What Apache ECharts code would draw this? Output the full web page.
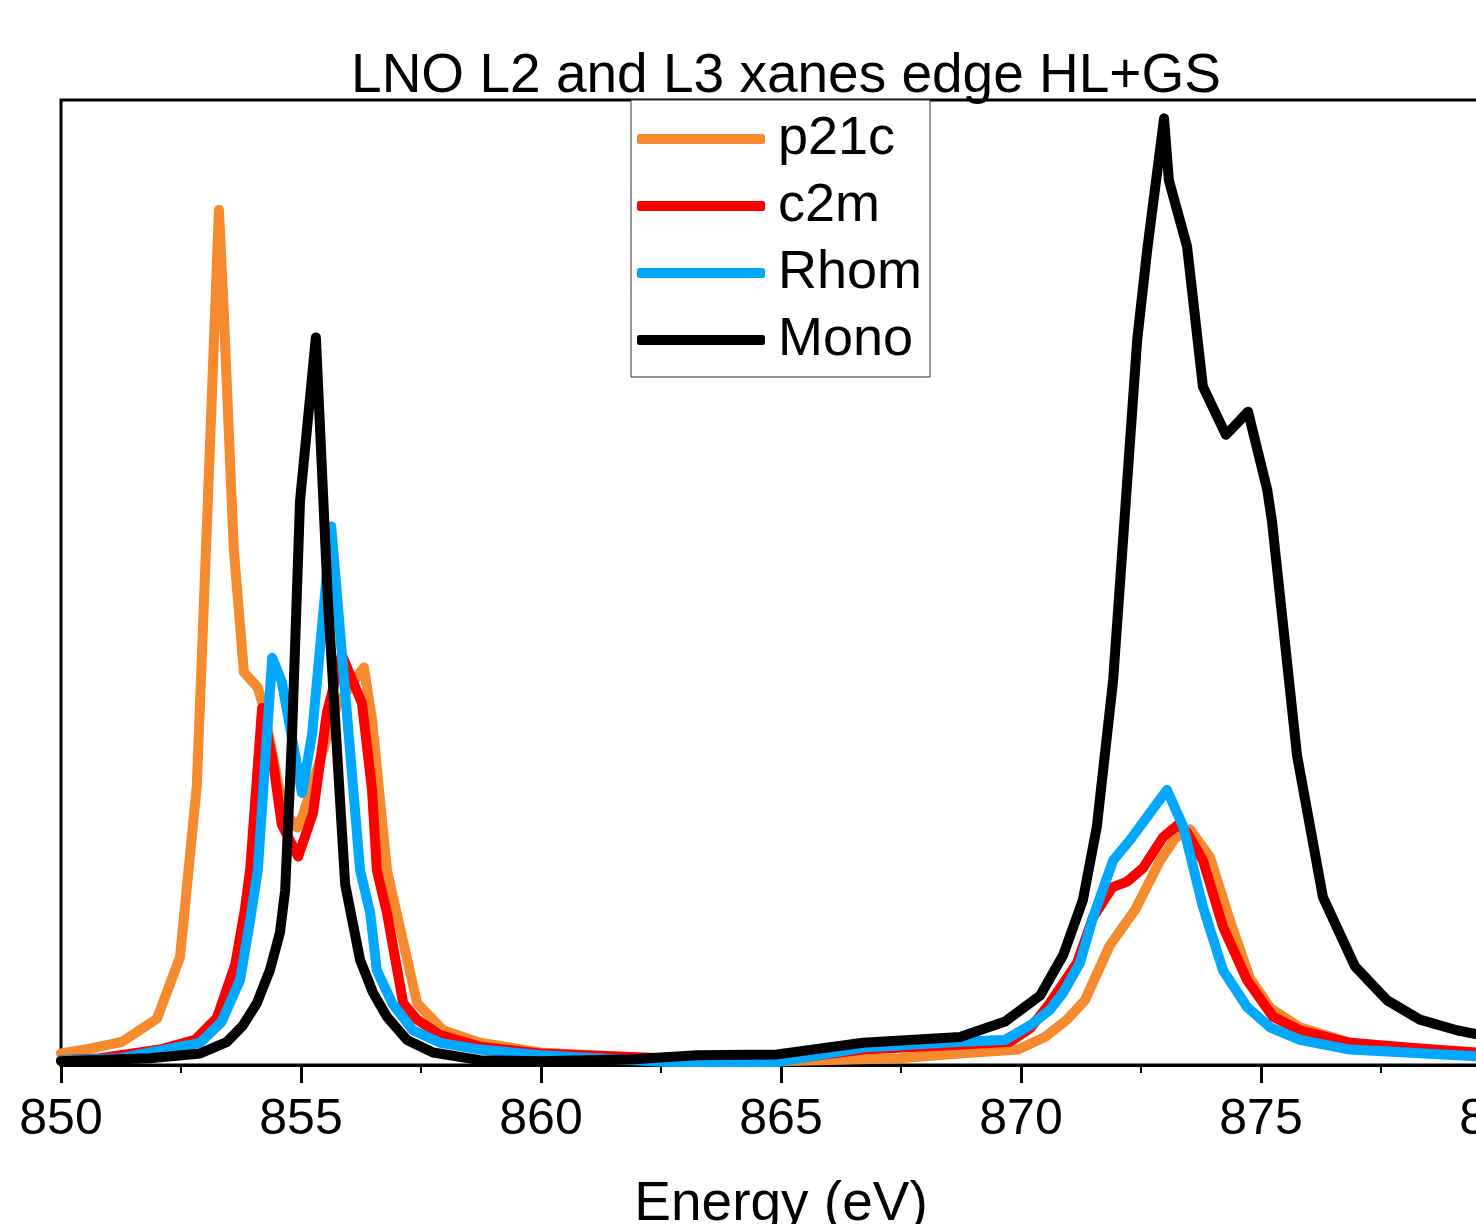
<!DOCTYPE html>
<html>
<head>
<meta charset="utf-8">
<script src="https://cdn.jsdelivr.net/npm/echarts@6/dist/echarts.min.js"></script>
<style>
  html, body { margin: 0; padding: 0; background: #fff; }
  #chart { width: 1476px; height: 1224px; }
</style>
</head>
<body>
<div id="chart"></div>
<script>
// Energy (eV), intensity (arb. units, 0..1 of plot height)
const titleText = 'LNO L2 and L3 xanes edge HL+GS';
const xName = 'Energy (eV)';
const seriesNames = ['p21c', 'c2m', 'Rhom', 'Mono'];
const seriesColors = ['#F68A2E', '#FF0000', '#00A8FF', '#000000'];

const p21c = [
  [850.00,0.012],[850.50,0.016],[851.27,0.024],[852.00,0.048],[852.48,0.112],
  [852.83,0.290],[853.06,0.585],[853.29,0.886],[853.38,0.793],[853.60,0.534],
  [853.81,0.407],[854.10,0.391],[854.21,0.373],[854.63,0.264],[854.92,0.246],
  [855.04,0.259],[855.75,0.373],[856.31,0.412],[856.48,0.358],[856.79,0.202],
  [857.42,0.064],[857.96,0.036],[858.73,0.023],[859.98,0.013],[862.06,0.007],
  [864.98,0.004],[867.48,0.007],[868.73,0.012],[869.94,0.016],[870.50,0.029],
  [870.96,0.047],[871.33,0.067],[871.85,0.124],[872.38,0.161],[872.90,0.212],
  [873.21,0.235],[873.52,0.244],[873.94,0.215],[874.35,0.150],[874.77,0.090],
  [875.19,0.059],[875.81,0.039],[876.85,0.023],[878.31,0.016],[879.48,0.011],[880.00,0.010]
];
const c2m = [
  [850.00,0.005],[850.81,0.007],[852.06,0.016],[852.79,0.026],[853.25,0.049],
  [853.63,0.104],[853.83,0.161],[853.94,0.202],[854.19,0.370],[854.42,0.313],
  [854.60,0.249],[854.94,0.216],[855.25,0.261],[855.54,0.365],[855.85,0.425],
  [856.27,0.375],[856.48,0.285],[856.58,0.202],[856.79,0.158],[857.13,0.064],
  [857.42,0.047],[857.90,0.031],[858.73,0.019],[859.98,0.012],[862.06,0.008],
  [863.31,0.005],[864.98,0.005],[866.71,0.016],[868.73,0.021],[869.77,0.024],
  [870.19,0.038],[870.60,0.064],[871.17,0.106],[871.50,0.153],[871.90,0.184],
  [872.21,0.190],[872.54,0.204],[872.96,0.236],[873.27,0.249],[873.46,0.241],
  [873.79,0.212],[874.21,0.143],[874.71,0.088],[875.25,0.050],[875.81,0.036],
  [876.85,0.023],[878.31,0.017],[879.48,0.013],[880.00,0.012]
];
const rhom = [
  [850.00,0.005],[851.23,0.007],[852.90,0.023],[853.35,0.045],[853.73,0.088],
  [853.94,0.150],[854.10,0.202],[854.40,0.422],[854.60,0.397],[855.02,0.282],
  [855.23,0.342],[855.63,0.558],[856.23,0.202],[856.44,0.158],[856.58,0.098],
  [856.90,0.064],[857.33,0.036],[857.90,0.023],[858.73,0.016],[859.98,0.010],
  [862.63,0.003],[864.92,0.003],[866.71,0.018],[868.73,0.024],[869.67,0.026],
  [870.19,0.041],[870.60,0.057],[870.88,0.075],[871.23,0.106],[871.50,0.153],
  [871.92,0.212],[872.27,0.233],[873.04,0.285],[873.38,0.247],[873.79,0.164],
  [874.21,0.098],[874.71,0.060],[875.19,0.039],[875.81,0.026],[876.85,0.016],
  [879.48,0.009],[880.00,0.009]
];
const mono = [
  [850.00,0.004],[850.60,0.005],[851.85,0.007],[852.90,0.012],[853.46,0.024],
  [853.79,0.041],[854.08,0.064],[854.35,0.098],[854.56,0.137],[854.67,0.181],
  [854.81,0.337],[854.98,0.585],[855.31,0.754],[855.56,0.482],[855.92,0.187],
  [856.23,0.109],[856.50,0.075],[856.79,0.050],[857.21,0.026],[857.75,0.013],
  [858.73,0.005],[859.98,0.004],[861.92,0.006],[863.25,0.010],[864.92,0.011],
  [866.71,0.023],[868.73,0.029],[869.67,0.045],[870.40,0.072],[870.88,0.114],
  [871.29,0.171],[871.58,0.247],[871.92,0.399],[872.21,0.603],[872.42,0.751],
  [872.63,0.845],[872.98,0.981],[873.08,0.917],[873.46,0.848],[873.79,0.703],
  [874.27,0.653],[874.73,0.677],[875.13,0.596],[875.23,0.563],[875.75,0.321],
  [876.29,0.174],[876.96,0.102],[877.63,0.067],[878.31,0.047],[879.08,0.036],
  [879.48,0.032],[880.00,0.030]
];
const seriesData = [p21c, c2m, rhom, mono];

const FONT = '"Liberation Sans", Arial, sans-serif';
const chart = echarts.init(document.getElementById('chart'), null, { renderer: 'canvas' });
chart.setOption({
  backgroundColor: '#ffffff',
  animation: false,
  title: {
    text: titleText,
    left: 781, textAlign: 'center',
    top: 44,
    textStyle: { fontFamily: FONT, fontSize: 55, fontWeight: 'normal', color: '#000' }
  },
  legend: {
    data: seriesNames,
    orient: 'vertical',
    left: 631, top: 100,
    padding: [12, 8, 10, 6],
    itemGap: 13,
    itemWidth: 128, itemHeight: 10,
    icon: 'roundRect',
    backgroundColor: '#fff',
    borderColor: '#333', borderWidth: 1,
    textStyle: { fontFamily: FONT, fontSize: 54, color: '#000', padding: [0, 0, 0, 8] }
  },
  grid: {
    left: 61, top: 100, right: -25, bottom: 159,
    outerBoundsMode: 'none',
    containLabel: false,
    show: true, borderColor: '#000', borderWidth: 3, backgroundColor: 'transparent'
  },
  xAxis: {
    type: 'value', min: 850, max: 880, interval: 5,
    name: xName, nameLocation: 'middle', nameGap: 112,
    nameTextStyle: { fontFamily: FONT, fontSize: 55, color: '#000' },
    axisLine: { show: true, onZero: false, lineStyle: { color: '#000', width: 3 } },
    axisTick: { show: true, inside: false, length: 18, lineStyle: { color: '#000', width: 3 } },
    minorTick: { show: true, splitNumber: 2, length: 8, lineStyle: { color: '#000', width: 2 } },
    axisLabel: { fontFamily: FONT, fontSize: 50, color: '#000', margin: 30 },
    splitLine: { show: false }
  },
  yAxis: {
    type: 'value', min: 0, max: 1,
    axisLine: { show: false }, axisTick: { show: false },
    axisLabel: { show: false }, splitLine: { show: false }
  },
  series: seriesNames.map((n, i) => ({
    name: n, type: 'line', data: seriesData[i],
    showSymbol: false, symbol: 'none',
    color: seriesColors[i],
    lineStyle: { width: 10, color: seriesColors[i], cap: 'round', join: 'round' },
    itemStyle: { color: seriesColors[i] }
  }))
});
</script>
</body>
</html>
